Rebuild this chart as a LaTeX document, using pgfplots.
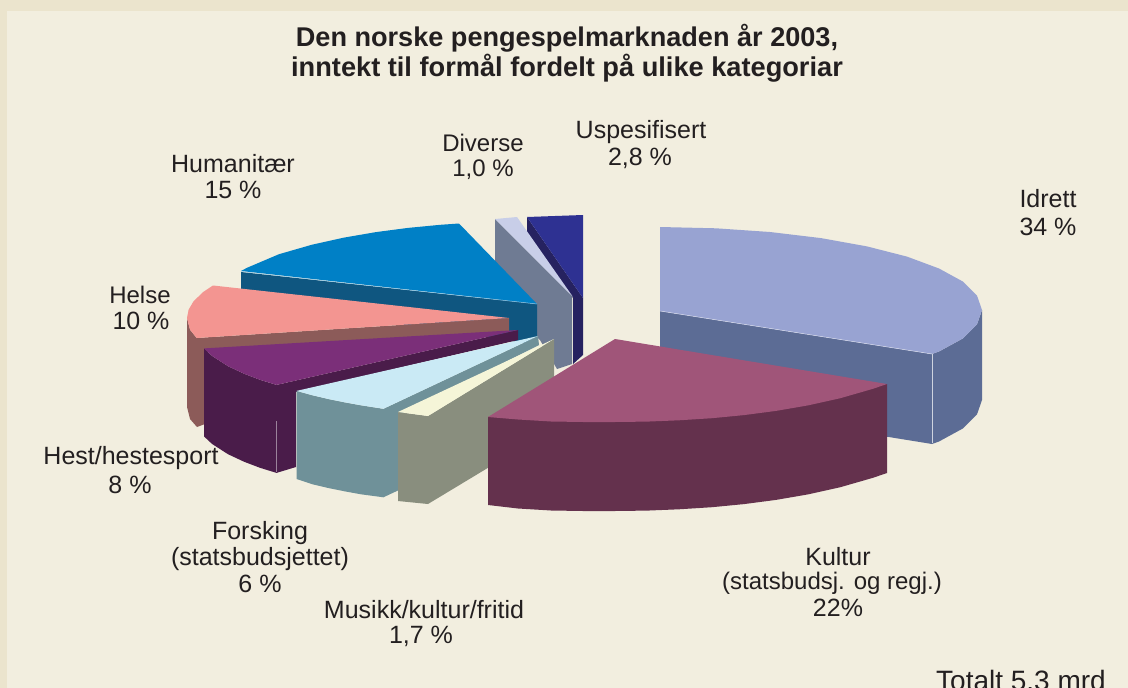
\documentclass[border=0pt]{standalone}
\usepackage{pgfplots}
\pgfplotsset{compat=1.18}
\usepackage{fontspec}
\setmainfont{Liberation Sans}
\definecolor{bgo}{HTML}{EBE4CD}
\definecolor{bgi}{HTML}{F2EEDF}
\definecolor{txt}{HTML}{231F20}
\definecolor{idT}{HTML}{98A3D2}\definecolor{idS}{HTML}{5C6C95}
\definecolor{kuT}{HTML}{A05579}\definecolor{kuS}{HTML}{64314D}
\definecolor{usT}{HTML}{2E3192}\definecolor{usS}{HTML}{262260}
\definecolor{diT}{HTML}{C8CEE8}\definecolor{diS}{HTML}{6F7B93}
\definecolor{huT}{HTML}{0080C6}\definecolor{huS}{HTML}{0F5680}
\definecolor{heT}{HTML}{F39591}\definecolor{heS}{HTML}{8C5B59}
\definecolor{hsT}{HTML}{7B2F79}\definecolor{hsS}{HTML}{4A1C4A}
\definecolor{foT}{HTML}{CAEAF5}\definecolor{foS}{HTML}{6F9199}
\definecolor{muT}{HTML}{F5F5D8}\definecolor{muS}{HTML}{898E7E}
\newcommand{\lab}[3]{\node[text=txt,font=\fontsize{25}{25}\selectfont,anchor=center,inner sep=0pt] at (axis cs:#1,#2) {#3};}
\newcommand{\labs}[3]{\node[text=txt,font=\fontsize{24}{24}\selectfont,anchor=center,inner sep=0pt] at (axis cs:#1,#2) {#3};}
\begin{document}
\begin{tikzpicture}
\path[use as bounding box] (0,0) rectangle (1128pt,688pt);
\clip (0,0) rectangle (1128pt,688pt);
\fill[bgo] (0,0) rectangle (1128pt,688pt);
\fill[bgi] (7pt,0) rectangle (1128pt,677pt);
\begin{axis}[at={(0,0)},anchor=south west,scale only axis,width=1128pt,height=688pt,
  xmin=0,xmax=1128,ymin=0,ymax=688,y dir=reverse,hide axis,clip=false]
% Idrett
\addplot[fill=idS,draw=none] coordinates {(660,311)(932,354)(939,351.5)(963,338.4)(977,324.4)(982,310)(982,400)(977,414.4)(963,428.4)(939,441.5)(932,444)(660,400)} --cycle;
\addplot[fill=idT,draw=none] coordinates {(660,227)(716,228.3)(770,232)(821,238.1)(867,246.4)(907,256.6)(939,268.5)(963,281.6)(977,295.6)(982,310)(977,324.4)(963,338.4)(939,351.5)(932,354)(660,311)} --cycle;
\addplot[draw=white!70!idS,line width=0.6pt] coordinates {(932,354)(932,443)};
\addplot[draw=white!60!idT,line width=0.5pt] coordinates {(660,311)(932,354)};
% Uspesifisert
\addplot[fill=usS,draw=none] coordinates {(527,217)(583,298)(583,355)(573,364)(573,298)(527,232)} --cycle;
\addplot[fill=usT,draw=none] coordinates {(527,217)(583,215)(583,298)} --cycle;
% Diverse
\addplot[fill=diS,draw=none] coordinates {(495,219)(572,296)(572,364)(557,369)(540,340)(495,300)} --cycle;
\addplot[fill=diT,draw=none] coordinates {(495,219)(517,217)(573,297)} --cycle;
% Humanitaer
\addplot[fill=huS,draw=none] coordinates {(241,272)(537,304)(537,345)(241,300)} --cycle;
\addplot[fill=huT,draw=none] coordinates {(459,223.5)(440.4,224.8)(408,227.9)(376,232.1)(344,237.6)(312,244.7)(279,254.2)(247,267.8)(241,271)(537,304)} --cycle;
\addplot[draw=white!60!huT,line width=0.5pt] coordinates {(241,271.5)(537,304)};
% Helse
\addplot[fill=heS,draw=none] coordinates {(187,318)(190,329.7)(196.7,338)(509,318)(509,332)(205,352)(205,424)(197,427)(190,419)(187,407)} --cycle;
\addplot[fill=heT,draw=none] coordinates {(213,285.5)(203,292.1)(193.4,301.5)(188.6,309.7)(187,318)(190,329.7)(196.7,338)(509,318)} --cycle;
% Hest
\addplot[fill=hsS,draw=none] coordinates {(204,348.4)(212,355.9)(228,366.2)(244,373.7)(260,379.8)(276.5,384.9)(518,330)(518,340)(296,392)(296,467)(276.5,472.9)(260,467.8)(244,461.7)(228,454.2)(212,443.9)(204,436.4)} --cycle;
\addplot[fill=hsT,draw=none] coordinates {(518,330)(204,348.4)(212,355.9)(228,366.2)(244,373.7)(260,379.8)(276.5,384.9)} --cycle;
\addplot[draw=white!45!hsS,line width=0.5pt] coordinates {(276,421)(276,472)};
% Forsking
\addplot[fill=foS,draw=none] coordinates {(296.5,390.9)(312.6,395.3)(328.7,399.1)(345,402.4)(361,405.3)(383.4,408.8)(538,336)(539,345)(399,415)(399,490)(383.4,497.3)(361,494.3)(345,491.4)(328.7,488.1)(312.6,484.3)(296.5,479)} --cycle;
\addplot[fill=foT,draw=none] coordinates {(538,336)(296.5,390.9)(312.6,395.3)(328.7,399.1)(345,402.4)(361,405.3)(383.4,408.8)} --cycle;
% Musikk
\addplot[fill=muS,draw=none] coordinates {(398,412)(428,416)(554,339)(554,428)(428,504)(398,501)} --cycle;
\addplot[fill=muT,draw=none] coordinates {(398,412)(554,339)(428,416)} --cycle;
% Kultur
\addplot[fill=kuS,draw=none] coordinates {(887,384)(887,473)(873,477.8)(840,487.3)(808,494.4)(776,499.9)(744,504.1)(712,507.2)(679,509.3)(647,510.6)(615,511)(583,511)(551,510.5)(518,508.5)(488,505)(488,417)} --cycle;
\addplot[fill=kuT,draw=none] coordinates {(615,339)(887,384)(873,388.8)(840,398.3)(808,405.4)(776,410.9)(744,415.1)(712,418.2)(679,420.3)(647,421.6)(615,422)(583,422)(551,421.5)(518,419.5)(488,417)} --cycle;
% Text
\node[text=txt,font=\fontsize{27.1}{27}\selectfont\bfseries,inner sep=0pt] at (axis cs:567,38.5) {Den norske pengespelmarknaden år 2003,};
\node[text=txt,font=\fontsize{27.2}{27}\selectfont\bfseries,inner sep=0pt] at (axis cs:567,68.5) {inntekt til formål fordelt på ulike kategoriar};
\lab{233}{164}{Humanitær}\lab{233}{190}{15 \%}
\labs{483}{143}{Diverse}\labs{483}{169.5}{1,0 \%}
\lab{641}{132}{Uspesifisert}\lab{640}{158.5}{2,8 \%}
\lab{1048}{199}{Idrett}\lab{1048}{226.5}{34 \%}
\labs{140}{295}{Helse}\lab{141}{320.5}{10 \%}
\lab{131}{458}{Hest/hestesport}\lab{130}{484.5}{8 \%}
\lab{260}{533}{Forsking}\lab{260}{559}{(statsbudsjettet)}\lab{260}{584}{6 \%}
\lab{424}{610}{Musikk/kultur/fritid}\lab{421}{636}{1,7 \%}
\lab{838}{557}{Kultur}\labs{832}{583}{(statsbudsj. og regj.)}\lab{838}{608}{22\%}
\node[text=txt,font=\fontsize{28}{28}\selectfont,inner sep=0pt] at (axis cs:1021,680) {Totalt 5.3 mrd};
\end{axis}
\end{tikzpicture}
\end{document}
